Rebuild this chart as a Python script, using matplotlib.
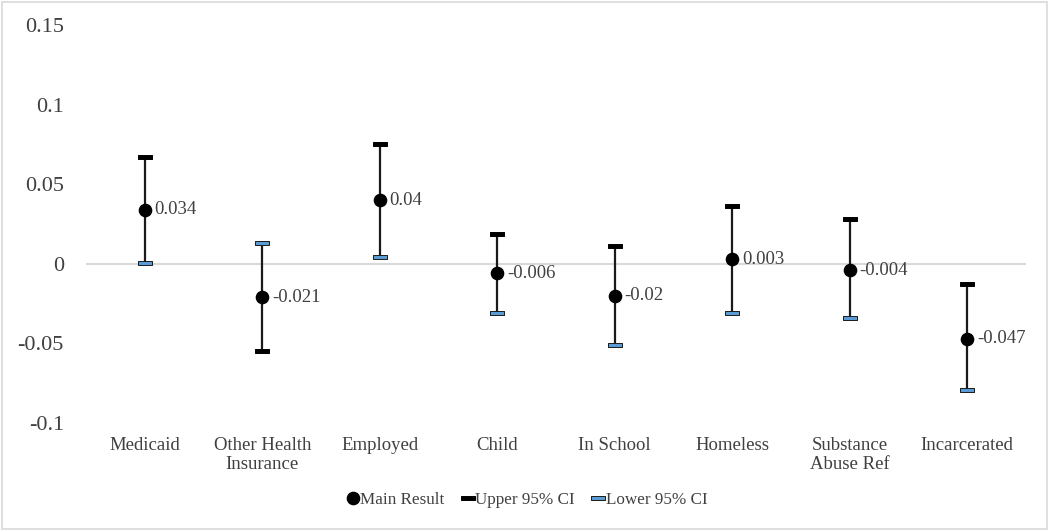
import numpy as np
import matplotlib.pyplot as plt
from matplotlib.path import Path
from matplotlib.patches import Rectangle

plt.rcParams['font.family'] = ['Liberation Serif', 'DejaVu Serif']

# data
categories = ['Medicaid', 'Other Health\nInsurance', 'Employed', 'Child',
              'In School', 'Homeless', 'Substance\nAbuse Ref', 'Incarcerated']
main = [0.034, -0.021, 0.04, -0.006, -0.02, 0.003, -0.004, -0.047]
upper = [0.067, -0.055, 0.075, 0.019, 0.011, 0.036, 0.028, -0.0125]
lower = [0.0006, 0.013, 0.004, -0.031, -0.051, -0.031, -0.034, -0.079]
labels = ['0.034', '-0.021', '0.04', '-0.006', '-0.02', '0.003', '-0.004', '-0.047']

x = np.arange(len(categories))

fig = plt.figure(figsize=(10.5, 5.31), dpi=100)
ax = fig.add_axes([0.082, 0.2034, 0.895, 0.7496])

# flat bar marker for the CI caps
cap = Path([(-1, -0.27), (1, -0.27), (1, 0.27), (-1, 0.27), (-1, -0.27)],
           [Path.MOVETO, Path.LINETO, Path.LINETO, Path.LINETO, Path.CLOSEPOLY])

ax.axhline(0, color='#d9d9d9', lw=1.5, zorder=1)
ax.vlines(x, lower, upper, color='#1a1a1a', lw=1.6, zorder=2)
ax.plot(x, upper, ls='none', marker=cap, ms=10.5, mfc='black', mec='black',
        mew=0.7, zorder=3, label='Upper 95% CI')
ax.plot(x, lower, ls='none', marker=cap, ms=10.5, mfc='#5b9bd5', mec='#1a1a1a',
        mew=0.7, zorder=3, label='Lower 95% CI')
ax.plot(x, main, ls='none', marker='o', ms=8.8, color='black', zorder=4,
        label='Main Result')

for xi, yi, t in zip(x, main, labels):
    ax.annotate(t, (xi, yi), xytext=(7, 0), textcoords='offset points',
                va='center', ha='left', fontsize=13.5, color='#404040')

ax.set_xlim(-0.5, 7.5)
ax.set_ylim(-0.1, 0.15)
ax.set_yticks([-0.1, -0.05, 0, 0.05, 0.1, 0.15])
ax.set_yticklabels(['-0.1', '-0.05', '0', '0.05', '0.1', '0.15'])
ax.set_xticks(x)
ax.set_xticklabels(categories, fontsize=13.5, color='#404040', va='top',
                   linespacing=1.15)
ax.tick_params(axis='y', length=0, pad=16, labelsize=16, labelcolor='#404040')
ax.tick_params(axis='x', length=0, pad=10)
for s in ax.spines.values():
    s.set_visible(False)

h, l = ax.get_legend_handles_labels()
order = [2, 0, 1]
fig.legend([h[i] for i in order], [l[i] for i in order], loc='center',
           bbox_to_anchor=(0.502, 0.058), ncol=3, frameon=False, fontsize=12.3,
           handlelength=0.7, handletextpad=0.1, columnspacing=1.0,
           labelcolor='#404040', markerscale=1.0)

fig.patches.append(Rectangle((0.002, 0.003), 0.995, 0.993, transform=fig.transFigure,
                             fill=False, edgecolor='#d9d9d9', lw=1.2))

fig.savefig('out.png', dpi=100)
